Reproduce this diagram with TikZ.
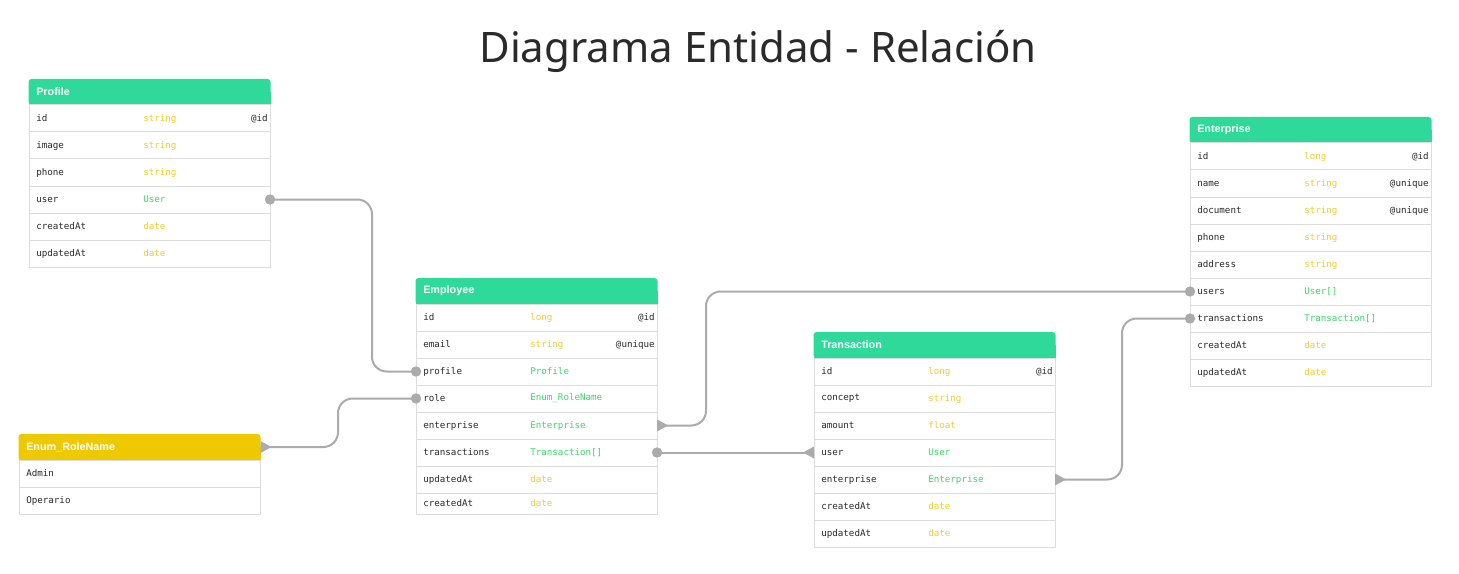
\documentclass[tikz,border=0pt]{standalone}
\usepackage{fontspec}
\setmainfont{Noto Sans}
\newfontfamily\erdmono{DejaVu Sans Mono}
\newfontfamily\hdrfont{Liberation Sans}
\usetikzlibrary{calc}
\definecolor{hdrgreen}{HTML}{2ED999}
\definecolor{hdryellow}{HTML}{EFC900}
\definecolor{tyellow}{HTML}{F2CC30}
\definecolor{tgreen}{HTML}{3BD86A}
\definecolor{rowline}{HTML}{DCDCDC}
\definecolor{conncol}{HTML}{ABABAB}
\definecolor{txtdark}{HTML}{2A2A2A}
\tikzset{
  x=0.75pt, y=-0.75pt,
  rowbox/.style={draw=rowline, line width=0.75pt, fill=white, rectangle, inner sep=0pt,
    minimum width=180.75pt, anchor=north west, outer sep=0pt},
  hdrbox/.style={rectangle, inner sep=0pt, outer sep=0pt, minimum width=181.5pt, minimum height=19.5pt,
    anchor=north west, rounded corners=2.25pt},
  hdrtxt/.style={anchor=west, inner sep=0pt, text=white, font=\hdrfont\bfseries\fontsize{8.1pt}{9.5pt}\selectfont},
  fieldtxt/.style={anchor=west, inner sep=0pt, text=txtdark, font=\erdmono\fontsize{6.9pt}{8pt}\selectfont},
  conn/.style={draw=conncol, line width=1.5pt, rounded corners=11pt},
  dotmark/.style={fill=conncol},
  trimark/.style={fill=conncol},
}
\newcommand{\erdrow}[8]{%
  \node[rowbox, minimum height=#4*0.75pt] (#1) at (#2,#3) {};
  \node[fieldtxt] (#1-f) at ($(#1.west)+(7,0)$) {#5};
  \node[fieldtxt, text=#7] (#1-t) at ($(#1.west)+(114,0)$) {#6};
  \node[fieldtxt, anchor=east] (#1-a) at ($(#1.east)+(-2,0)$) {#8};
}
\newcommand{\erdhead}[5]{%
  \node[hdrbox, fill=#5] (#1) at ($(#2,#3)+(-0.5,0)$) {};
  \fill[#5] (#1.west) rectangle (#1.south east);
  \node[hdrtxt] (#1-title) at ($(#1.west)+(7.5,0)$) {#4};
}
\begin{document}
\begin{tikzpicture}
\useasboundingbox[fill=white] (0,0) rectangle (1459,574);

\node[font=\fontsize{31.5pt}{36pt}\selectfont, text=txtdark, inner sep=0pt] (title) at (758,51) {Diagrama Entidad - Relación};

% Profile
\erdhead{prof}{29}{79}{Profile}{hdrgreen}
\erdrow{prof-id}{29}{105}{27}{id}{string}{tyellow}{@id}
\erdrow{prof-image}{29}{132}{27}{image}{string}{tyellow}{}
\erdrow{prof-phone}{29}{159}{27}{phone}{string}{tyellow}{}
\erdrow{prof-user}{29}{186}{27}{user}{User}{tgreen}{}
\erdrow{prof-created}{29}{213}{27}{createdAt}{date}{tyellow}{}
\erdrow{prof-updated}{29}{240}{27}{updatedAt}{date}{tyellow}{}

% Employee
\erdhead{emp}{416}{278}{Employee}{hdrgreen}
\erdrow{emp-id}{416}{304}{27}{id}{long}{tyellow}{@id}
\erdrow{emp-email}{416}{331}{27}{email}{string}{tyellow}{@unique}
\erdrow{emp-profile}{416}{358}{27}{profile}{Profile}{tgreen}{}
\erdrow{emp-role}{416}{385}{27}{role}{Enum\_RoleName}{tgreen}{}
\erdrow{emp-enterprise}{416}{412}{27}{enterprise}{Enterprise}{tgreen}{}
\erdrow{emp-transactions}{416}{439}{27}{transactions}{Transaction[]}{tgreen}{}
\erdrow{emp-updated}{416}{466}{27}{updatedAt}{date}{tyellow}{}
\erdrow{emp-created}{416}{493}{21}{createdAt}{date}{tyellow}{}

% Transaction
\erdhead{tra}{814}{332}{Transaction}{hdrgreen}
\erdrow{tra-id}{814}{358}{27}{id}{long}{tyellow}{@id}
\erdrow{tra-concept}{814}{385}{27}{concept}{string}{tyellow}{}
\erdrow{tra-amount}{814}{412}{27}{amount}{float}{tyellow}{}
\erdrow{tra-user}{814}{439}{27}{user}{User}{tgreen}{}
\erdrow{tra-enterprise}{814}{466}{27}{enterprise}{Enterprise}{tgreen}{}
\erdrow{tra-created}{814}{493}{27}{createdAt}{date}{tyellow}{}
\erdrow{tra-updated}{814}{520}{27}{updatedAt}{date}{tyellow}{}

% Enterprise
\erdhead{ent}{1190}{117}{Enterprise}{hdrgreen}
\erdrow{ent-id}{1190}{143}{27}{id}{long}{tyellow}{@id}
\erdrow{ent-name}{1190}{170}{27}{name}{string}{tyellow}{@unique}
\erdrow{ent-document}{1190}{197}{27}{document}{string}{tyellow}{@unique}
\erdrow{ent-phone}{1190}{224}{27}{phone}{string}{tyellow}{}
\erdrow{ent-address}{1190}{251}{27}{address}{string}{tyellow}{}
\erdrow{ent-users}{1190}{278}{27}{users}{User[]}{tgreen}{}
\erdrow{ent-transactions}{1190}{305}{27}{transactions}{Transaction[]}{tgreen}{}
\erdrow{ent-created}{1190}{332}{27}{createdAt}{date}{tyellow}{}
\erdrow{ent-updated}{1190}{359}{27}{updatedAt}{date}{tyellow}{}

% Enum_RoleName
\erdhead{enum}{19}{434}{Enum\_RoleName}{hdryellow}
\erdrow{enum-admin}{19}{460}{27}{Admin}{}{tyellow}{}
\erdrow{enum-operario}{19}{487}{27}{Operario}{}{tyellow}{}

% connectors (vertical runs at fixed x)
\coordinate (c1) at (372,0);
\coordinate (c2) at (338,0);
\coordinate (c3) at (706,0);
\coordinate (c5) at (1122,0);
\draw[conn] (prof-user.east) -- (prof-user.east -| c1) -- (emp-profile.west -| c1) -- (emp-profile.west);
\draw[conn] (enum.east) -- (enum.east -| c2) -- (emp-role.west -| c2) -- (emp-role.west);
\draw[conn] (emp-enterprise.east) -- (emp-enterprise.east -| c3) -- (ent-users.west -| c3) -- (ent-users.west);
\draw[conn] (emp-transactions.east) -- (tra-user.west);
\draw[conn] (tra-enterprise.east) -- (tra-enterprise.east -| c5) -- (ent-transactions.west -| c5) -- (ent-transactions.west);

% end markers
\fill[dotmark] (prof-user.east) circle[radius=3.9pt];
\fill[dotmark] (emp-profile.west) circle[radius=3.9pt];
\fill[dotmark] (emp-role.west) circle[radius=3.9pt];
\fill[dotmark] (ent-users.west) circle[radius=3.9pt];
\fill[dotmark] (ent-transactions.west) circle[radius=3.9pt];
\fill[dotmark] (emp-transactions.east) circle[radius=3.9pt];
\fill[trimark] (enum.east) ++(0,-6) -- ++(11,6) -- ++(-11,6) -- cycle;
\fill[trimark] (emp-enterprise.east) ++(0,-6) -- ++(11,6) -- ++(-11,6) -- cycle;
\fill[trimark] (tra-enterprise.east) ++(0,-6) -- ++(11,6) -- ++(-11,6) -- cycle;
\fill[trimark] (tra-user.west) ++(0,-6) -- ++(-11,6) -- ++(11,6) -- cycle;
\end{tikzpicture}
\end{document}
